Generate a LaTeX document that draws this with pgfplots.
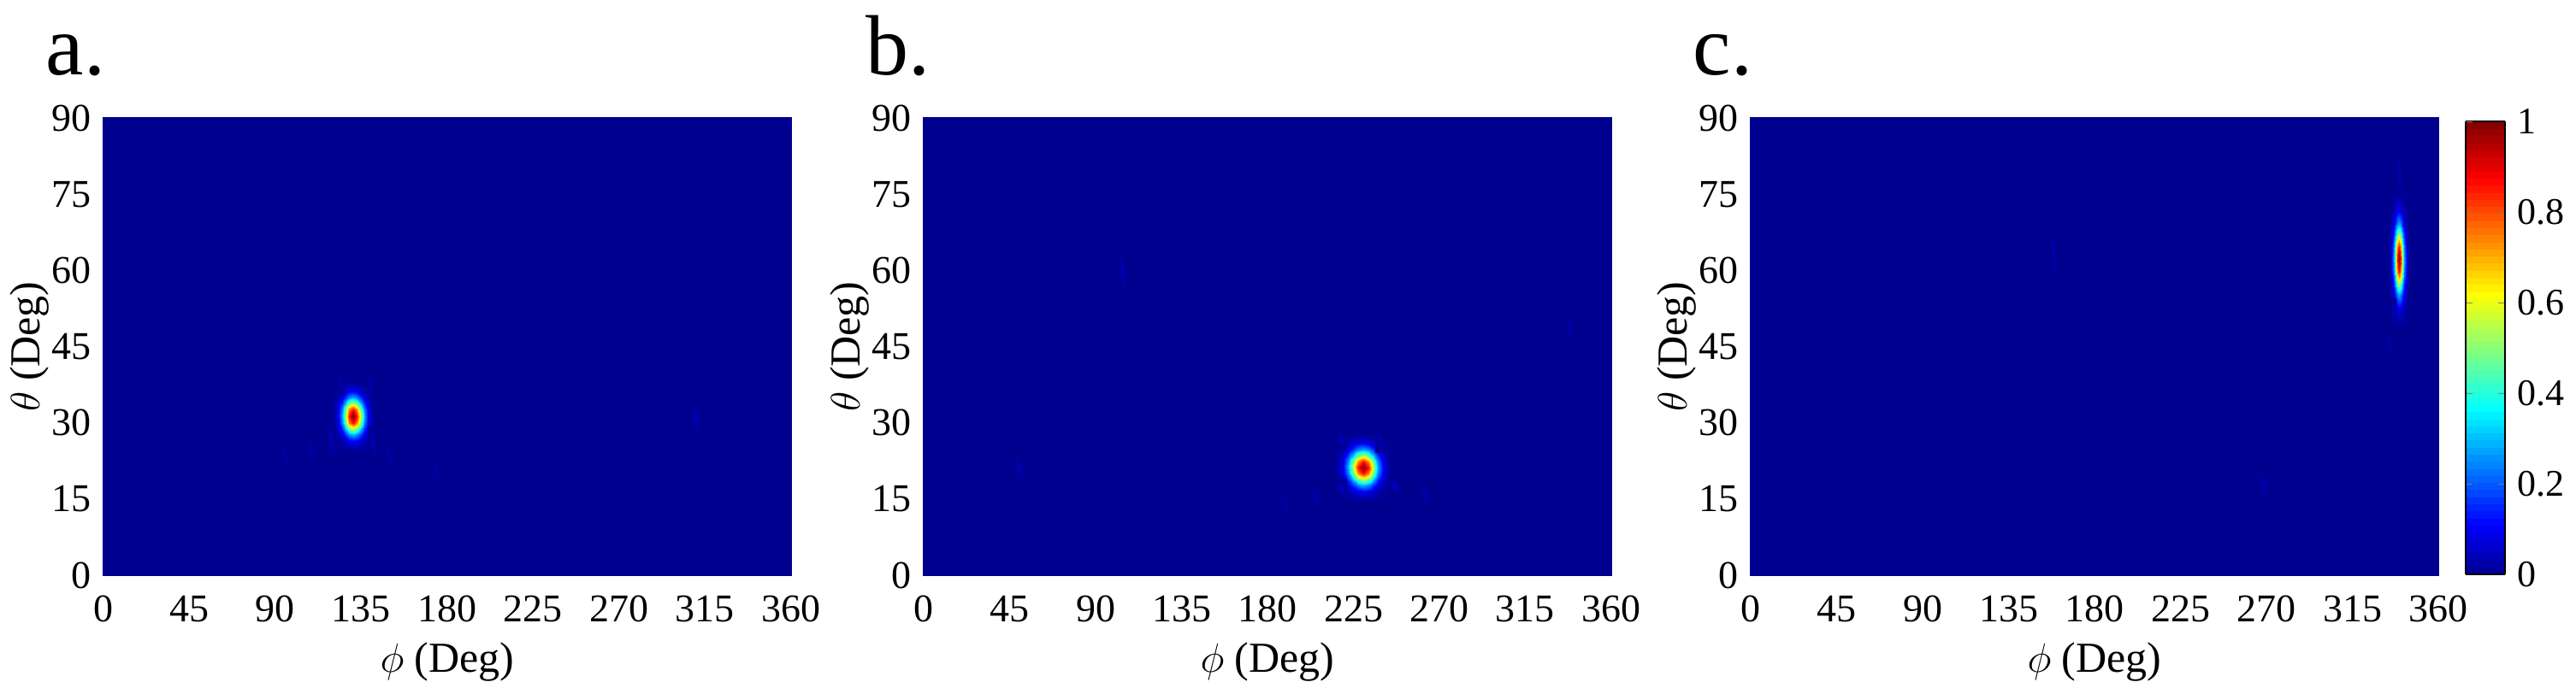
\documentclass[border=0pt]{standalone}
\usepackage{fontspec}
\setmainfont{Liberation Serif}
\usepackage{pgfplots}
\pgfplotsset{compat=1.18}
\pgfplotsset{
  colormap={mjet}{rgb(0pt)=(0,0,0.5625); rgb(7pt)=(0,0,1); rgb(23pt)=(0,1,1); rgb(39pt)=(1,1,0); rgb(55pt)=(1,0,0); rgb(63pt)=(0.5,0,0)},
  panel/.style={
    scale only axis, width=201pt, height=133.75pt,
    anchor=south west,
    xmin=0, xmax=360, ymin=0, ymax=90,
    xtick={0,45,...,360}, ytick={0,15,...,90},
    axis line style={draw=none},
    major tick length=0pt,
    tick label style={font=\fontsize{11.5}{12}\selectfont},
    xticklabel style={yshift=-2.5pt},
    /pgf/number format/assume math mode=true,
    xlabel={$\phi$ (Deg)}, ylabel={$\theta$ (Deg)},
    label style={font=\fontsize{12.5}{13}\selectfont},
    xlabel style={at={(axis description cs:0.5,-0.189)}, anchor=center},
    ylabel style={at={(axis description cs:-0.107,0.5)}, anchor=center},
    point meta min=0, point meta max=1,
    colormap name=mjet,
    clip=false,
  },
  bg/.style={surf, shader=flat, mesh/cols=2, point meta=explicit},
  blob/.style={surf, shader=interp, mesh/cols=11, point meta=explicit},
  faint/.style={surf, shader=interp, mesh/cols=3, point meta=explicit},
}
\begin{document}
\begin{tikzpicture}
\path[use as bounding box] (0,0) rectangle (753pt,201pt);
% ---------------- panel a ----------------
\begin{axis}[panel, at={(30.25pt,32.75pt)}]
\addplot[bg] coordinates {(0,0)[0] (360,0)[0] (0,90)[0] (360,90)[0]};
\addplot[blob] coordinates {
(119.9,24.4)[0] (122.8,24.4)[0] (124.9,24.4)[0] (126.7,24.4)[0] (128.7,24.4)[0] (130.7,24.4)[0] (132.7,24.4)[0] (134.7,24.4)[0] (136.5,24.4)[0] (138.6,24.4)[0] (141.5,24.4)[0]
(119.9,26.2)[0] (122.8,26.2)[0.008] (124.9,26.2)[0.025] (126.7,26.2)[0.049] (128.7,26.2)[0.077] (130.7,26.2)[0.089] (132.7,26.2)[0.077] (134.7,26.2)[0.049] (136.5,26.2)[0.025] (138.6,26.2)[0.008] (141.5,26.2)[0]
(119.9,27.6)[0] (122.8,27.6)[0.025] (124.9,27.6)[0.077] (126.7,27.6)[0.152] (128.7,27.6)[0.239] (130.7,27.6)[0.278] (132.7,27.6)[0.239] (134.7,27.6)[0.152] (136.5,27.6)[0.077] (138.6,27.6)[0.025] (141.5,27.6)[0]
(119.9,28.8)[0] (122.8,28.8)[0.049] (124.9,28.8)[0.152] (126.7,28.8)[0.298] (128.7,28.8)[0.470] (130.7,28.8)[0.546] (132.7,28.8)[0.470] (134.7,28.8)[0.298] (136.5,28.8)[0.152] (138.6,28.8)[0.049] (141.5,28.8)[0]
(119.9,30.0)[0] (122.8,30.0)[0.077] (124.9,30.0)[0.239] (126.7,30.0)[0.470] (128.7,30.0)[0.740] (130.7,30.0)[0.860] (132.7,30.0)[0.740] (134.7,30.0)[0.470] (136.5,30.0)[0.239] (138.6,30.0)[0.077] (141.5,30.0)[0]
(119.9,31.3)[0] (122.8,31.3)[0.089] (124.9,31.3)[0.278] (126.7,31.3)[0.546] (128.7,31.3)[0.860] (130.7,31.3)[1] (132.7,31.3)[0.860] (134.7,31.3)[0.546] (136.5,31.3)[0.278] (138.6,31.3)[0.089] (141.5,31.3)[0]
(119.9,32.6)[0] (122.8,32.6)[0.077] (124.9,32.6)[0.239] (126.7,32.6)[0.470] (128.7,32.6)[0.740] (130.7,32.6)[0.860] (132.7,32.6)[0.740] (134.7,32.6)[0.470] (136.5,32.6)[0.239] (138.6,32.6)[0.077] (141.5,32.6)[0]
(119.9,33.8)[0] (122.8,33.8)[0.049] (124.9,33.8)[0.152] (126.7,33.8)[0.298] (128.7,33.8)[0.470] (130.7,33.8)[0.546] (132.7,33.8)[0.470] (134.7,33.8)[0.298] (136.5,33.8)[0.152] (138.6,33.8)[0.049] (141.5,33.8)[0]
(119.9,35.0)[0] (122.8,35.0)[0.025] (124.9,35.0)[0.077] (126.7,35.0)[0.152] (128.7,35.0)[0.239] (130.7,35.0)[0.278] (132.7,35.0)[0.239] (134.7,35.0)[0.152] (136.5,35.0)[0.077] (138.6,35.0)[0.025] (141.5,35.0)[0]
(119.9,36.4)[0] (122.8,36.4)[0.008] (124.9,36.4)[0.025] (126.7,36.4)[0.049] (128.7,36.4)[0.077] (130.7,36.4)[0.089] (132.7,36.4)[0.077] (134.7,36.4)[0.049] (136.5,36.4)[0.025] (138.6,36.4)[0.008] (141.5,36.4)[0]
(119.9,38.2)[0] (122.8,38.2)[0] (124.9,38.2)[0] (126.7,38.2)[0] (128.7,38.2)[0] (130.7,38.2)[0] (132.7,38.2)[0] (134.7,38.2)[0] (136.5,38.2)[0] (138.6,38.2)[0] (141.5,38.2)[0]
};
% faint side lobes, panel a
\addplot[faint] coordinates {(307,27.8)[0] (310,27.8)[0] (313,27.8)[0] (307,30.8)[0] (310,30.8)[0.04] (313,30.8)[0] (307,33.8)[0] (310,33.8)[0] (313,33.8)[0]};
\addplot[faint] coordinates {(122,35.5)[0] (124,35.5)[0] (126,35.5)[0] (122,37.5)[0] (124,37.5)[0.035] (126,37.5)[0] (122,39.5)[0] (124,39.5)[0] (126,39.5)[0]};
\addplot[faint] coordinates {(137.7,35.5)[0] (139.7,35.5)[0] (141.7,35.5)[0] (137.7,37.5)[0] (139.7,37.5)[0.035] (141.7,37.5)[0] (137.7,39.5)[0] (139.7,39.5)[0] (141.7,39.5)[0]};
\addplot[faint] coordinates {(116.9,23.6)[0] (119.1,23.6)[0] (121.3,23.6)[0] (116.9,26.6)[0] (119.1,26.6)[0.045] (121.3,26.6)[0] (116.9,29.6)[0] (119.1,29.6)[0] (121.3,29.6)[0]};
\addplot[faint] coordinates {(138.4,23.2)[0] (140.6,23.2)[0] (142.8,23.2)[0] (138.4,26.2)[0] (140.6,26.2)[0.045] (142.8,26.2)[0] (138.4,29.2)[0] (140.6,29.2)[0] (142.8,29.2)[0]};
\addplot[faint] coordinates {(106.4,22.1)[0] (108.4,22.1)[0] (110.4,22.1)[0] (106.4,24.6)[0] (108.4,24.6)[0.03] (110.4,24.6)[0] (106.4,27.1)[0] (108.4,27.1)[0] (110.4,27.1)[0]};
\addplot[faint] coordinates {(147.6,20.7)[0] (149.6,20.7)[0] (151.6,20.7)[0] (147.6,23.2)[0] (149.6,23.2)[0.03] (151.6,23.2)[0] (147.6,25.7)[0] (149.6,25.7)[0] (151.6,25.7)[0]};
\addplot[faint] coordinates {(93,21.5)[0] (95,21.5)[0] (97,21.5)[0] (93,23.5)[0] (95,23.5)[0.025] (97,23.5)[0] (93,25.5)[0] (95,25.5)[0] (97,25.5)[0]};
\addplot[faint] coordinates {(172,18.2)[0] (174,18.2)[0] (176,18.2)[0] (172,20.2)[0] (174,20.2)[0.02] (176,20.2)[0] (172,22.2)[0] (174,22.2)[0] (176,22.2)[0]};
\end{axis}
% ---------------- panel b ----------------
\begin{axis}[panel, at={(270pt,32.75pt)}]
\addplot[bg] coordinates {(0,0)[0] (360,0)[0] (0,90)[0] (360,90)[0]};
\addplot[blob] coordinates {
(215.3,14.6)[0] (219.2,14.6)[0] (222.2,14.6)[0] (224.6,14.6)[0] (227.3,14.6)[0] (230.0,14.6)[0] (232.7,14.6)[0] (235.4,14.6)[0] (237.8,14.6)[0] (240.8,14.6)[0] (244.7,14.6)[0]
(215.3,16.4)[0] (219.2,16.4)[0.008] (222.2,16.4)[0.025] (224.6,16.4)[0.049] (227.3,16.4)[0.077] (230.0,16.4)[0.089] (232.7,16.4)[0.077] (235.4,16.4)[0.049] (237.8,16.4)[0.025] (240.8,16.4)[0.008] (244.7,16.4)[0]
(215.3,17.7)[0] (219.2,17.7)[0.025] (222.2,17.7)[0.077] (224.6,17.7)[0.152] (227.3,17.7)[0.239] (230.0,17.7)[0.278] (232.7,17.7)[0.239] (235.4,17.7)[0.152] (237.8,17.7)[0.077] (240.8,17.7)[0.025] (244.7,17.7)[0]
(215.3,18.8)[0] (219.2,18.8)[0.049] (222.2,18.8)[0.152] (224.6,18.8)[0.298] (227.3,18.8)[0.470] (230.0,18.8)[0.546] (232.7,18.8)[0.470] (235.4,18.8)[0.298] (237.8,18.8)[0.152] (240.8,18.8)[0.049] (244.7,18.8)[0]
(215.3,20.0)[0] (219.2,20.0)[0.077] (222.2,20.0)[0.239] (224.6,20.0)[0.470] (227.3,20.0)[0.740] (230.0,20.0)[0.860] (232.7,20.0)[0.740] (235.4,20.0)[0.470] (237.8,20.0)[0.239] (240.8,20.0)[0.077] (244.7,20.0)[0]
(215.3,21.2)[0] (219.2,21.2)[0.089] (222.2,21.2)[0.278] (224.6,21.2)[0.546] (227.3,21.2)[0.860] (230.0,21.2)[1] (232.7,21.2)[0.860] (235.4,21.2)[0.546] (237.8,21.2)[0.278] (240.8,21.2)[0.089] (244.7,21.2)[0]
(215.3,22.4)[0] (219.2,22.4)[0.077] (222.2,22.4)[0.239] (224.6,22.4)[0.470] (227.3,22.4)[0.740] (230.0,22.4)[0.860] (232.7,22.4)[0.740] (235.4,22.4)[0.470] (237.8,22.4)[0.239] (240.8,22.4)[0.077] (244.7,22.4)[0]
(215.3,23.6)[0] (219.2,23.6)[0.049] (222.2,23.6)[0.152] (224.6,23.6)[0.298] (227.3,23.6)[0.470] (230.0,23.6)[0.546] (232.7,23.6)[0.470] (235.4,23.6)[0.298] (237.8,23.6)[0.152] (240.8,23.6)[0.049] (244.7,23.6)[0]
(215.3,24.7)[0] (219.2,24.7)[0.025] (222.2,24.7)[0.077] (224.6,24.7)[0.152] (227.3,24.7)[0.239] (230.0,24.7)[0.278] (232.7,24.7)[0.239] (235.4,24.7)[0.152] (237.8,24.7)[0.077] (240.8,24.7)[0.025] (244.7,24.7)[0]
(215.3,26.0)[0] (219.2,26.0)[0.008] (222.2,26.0)[0.025] (224.6,26.0)[0.049] (227.3,26.0)[0.077] (230.0,26.0)[0.089] (232.7,26.0)[0.077] (235.4,26.0)[0.049] (237.8,26.0)[0.025] (240.8,26.0)[0.008] (244.7,26.0)[0]
(215.3,27.8)[0] (219.2,27.8)[0] (222.2,27.8)[0] (224.6,27.8)[0] (227.3,27.8)[0] (230.0,27.8)[0] (232.7,27.8)[0] (235.4,27.8)[0] (237.8,27.8)[0] (240.8,27.8)[0] (244.7,27.8)[0]
};
\addplot[faint] coordinates {(102.5,55.9)[0] (104,55.9)[0] (105.5,55.9)[0] (102.5,59.9)[0] (104,59.9)[0.045] (105.5,59.9)[0] (102.5,63.9)[0] (104,63.9)[0] (105.5,63.9)[0]};
\addplot[faint] coordinates {(336.5,45.6)[0] (338,45.6)[0] (339.5,45.6)[0] (336.5,48.6)[0] (338,48.6)[0.045] (339.5,48.6)[0] (336.5,51.6)[0] (338,51.6)[0] (339.5,51.6)[0]};
\addplot[faint] coordinates {(47.2,18.7)[0] (49.7,18.7)[0] (52.2,18.7)[0] (47.2,21.2)[0] (49.7,21.2)[0.035] (52.2,21.2)[0] (47.2,23.7)[0] (49.7,23.7)[0] (52.2,23.7)[0]};
\addplot[faint] coordinates {(216.2,24.6)[0] (218.7,24.6)[0] (221.2,24.6)[0] (216.2,26.6)[0] (218.7,26.6)[0.04] (221.2,26.6)[0] (216.2,28.6)[0] (218.7,28.6)[0] (221.2,28.6)[0]};
\addplot[faint] coordinates {(236.4,24.2)[0] (238.9,24.2)[0] (241.4,24.2)[0] (236.4,26.2)[0] (238.9,26.2)[0.04] (241.4,26.2)[0] (236.4,28.2)[0] (238.9,28.2)[0] (241.4,28.2)[0]};
\addplot[faint] coordinates {(215.3,15.0)[0] (218.3,15.0)[0] (221.3,15.0)[0] (215.3,17.0)[0] (218.3,17.0)[0.05] (221.3,17.0)[0] (215.3,19.0)[0] (218.3,19.0)[0] (221.3,19.0)[0]};
\addplot[faint] coordinates {(243.5,15.7)[0] (246.5,15.7)[0] (249.5,15.7)[0] (243.5,17.7)[0] (246.5,17.7)[0.05] (249.5,17.7)[0] (243.5,19.7)[0] (246.5,19.7)[0] (249.5,19.7)[0]};
\addplot[faint] coordinates {(202.8,13.1)[0] (205.3,13.1)[0] (207.8,13.1)[0] (202.8,15.1)[0] (205.3,15.1)[0.035] (207.8,15.1)[0] (202.8,17.1)[0] (205.3,17.1)[0] (207.8,17.1)[0]};
\addplot[faint] coordinates {(259.7,14.2)[0] (262.2,14.2)[0] (264.7,14.2)[0] (259.7,16.2)[0] (262.2,16.2)[0.035] (264.7,16.2)[0] (259.7,18.2)[0] (262.2,18.2)[0] (264.7,18.2)[0]};
\addplot[faint] coordinates {(187.2,11.6)[0] (189.2,11.6)[0] (191.2,11.6)[0] (187.2,13.6)[0] (189.2,13.6)[0.025] (191.2,13.6)[0] (187.2,15.6)[0] (189.2,15.6)[0] (191.2,15.6)[0]};
\end{axis}
% ---------------- panel c ----------------
\begin{axis}[panel, at={(511.75pt,32.75pt)},
  colorbar sampled,
  colorbar style={
    samples=65,
    at={(1.0398,0.9925)}, anchor=north west,
    scale only axis, width=11.5pt, height=132.5pt,
    ytick={0,0.2,0.4,0.6,0.8,1},
    yticklabel style={font=\fontsize{11}{12}\selectfont, /pgf/number format/fixed},
    /pgf/number format/assume math mode=true,
    major tick length=2pt, tick align=inside,
    axis line style={black, line width=0.5pt},
  }]
\addplot[bg] coordinates {(0,0)[0] (360,0)[0] (0,90)[0] (360,90)[0]};
\addplot[blob] coordinates {
(334.0,49.0)[0] (335.4,49.0)[0] (336.5,49.0)[0] (337.4,49.0)[0] (338.4,49.0)[0] (339.4,49.0)[0] (340.4,49.0)[0] (341.4,49.0)[0] (342.3,49.0)[0] (343.4,49.0)[0] (344.8,49.0)[0]
(334.0,52.5)[0] (335.4,52.5)[0.008] (336.5,52.5)[0.025] (337.4,52.5)[0.049] (338.4,52.5)[0.077] (339.4,52.5)[0.089] (340.4,52.5)[0.077] (341.4,52.5)[0.049] (342.3,52.5)[0.025] (343.4,52.5)[0.008] (344.8,52.5)[0]
(334.0,55.2)[0] (335.4,55.2)[0.025] (336.5,55.2)[0.077] (337.4,55.2)[0.152] (338.4,55.2)[0.239] (339.4,55.2)[0.278] (340.4,55.2)[0.239] (341.4,55.2)[0.152] (342.3,55.2)[0.077] (343.4,55.2)[0.025] (344.8,55.2)[0]
(334.0,57.4)[0] (335.4,57.4)[0.049] (336.5,57.4)[0.152] (337.4,57.4)[0.298] (338.4,57.4)[0.470] (339.4,57.4)[0.546] (340.4,57.4)[0.470] (341.4,57.4)[0.298] (342.3,57.4)[0.152] (343.4,57.4)[0.049] (344.8,57.4)[0]
(334.0,59.8)[0] (335.4,59.8)[0.077] (336.5,59.8)[0.239] (337.4,59.8)[0.470] (338.4,59.8)[0.740] (339.4,59.8)[0.860] (340.4,59.8)[0.740] (341.4,59.8)[0.470] (342.3,59.8)[0.239] (343.4,59.8)[0.077] (344.8,59.8)[0]
(334.0,62.2)[0] (335.4,62.2)[0.089] (336.5,62.2)[0.278] (337.4,62.2)[0.546] (338.4,62.2)[0.860] (339.4,62.2)[1] (340.4,62.2)[0.860] (341.4,62.2)[0.546] (342.3,62.2)[0.278] (343.4,62.2)[0.089] (344.8,62.2)[0]
(334.0,64.6)[0] (335.4,64.6)[0.077] (336.5,64.6)[0.239] (337.4,64.6)[0.470] (338.4,64.6)[0.740] (339.4,64.6)[0.860] (340.4,64.6)[0.740] (341.4,64.6)[0.470] (342.3,64.6)[0.239] (343.4,64.6)[0.077] (344.8,64.6)[0]
(334.0,67.0)[0] (335.4,67.0)[0.049] (336.5,67.0)[0.152] (337.4,67.0)[0.298] (338.4,67.0)[0.470] (339.4,67.0)[0.546] (340.4,67.0)[0.470] (341.4,67.0)[0.298] (342.3,67.0)[0.152] (343.4,67.0)[0.049] (344.8,67.0)[0]
(334.0,69.2)[0] (335.4,69.2)[0.025] (336.5,69.2)[0.077] (337.4,69.2)[0.152] (338.4,69.2)[0.239] (339.4,69.2)[0.278] (340.4,69.2)[0.239] (341.4,69.2)[0.152] (342.3,69.2)[0.077] (343.4,69.2)[0.025] (344.8,69.2)[0]
(334.0,71.9)[0] (335.4,71.9)[0.008] (336.5,71.9)[0.025] (337.4,71.9)[0.049] (338.4,71.9)[0.077] (339.4,71.9)[0.089] (340.4,71.9)[0.077] (341.4,71.9)[0.049] (342.3,71.9)[0.025] (343.4,71.9)[0.008] (344.8,71.9)[0]
(334.0,75.4)[0] (335.4,75.4)[0] (336.5,75.4)[0] (337.4,75.4)[0] (338.4,75.4)[0] (339.4,75.4)[0] (340.4,75.4)[0] (341.4,75.4)[0] (342.3,75.4)[0] (343.4,75.4)[0] (344.8,75.4)[0]
};
\addplot[faint] coordinates {(157,59)[0] (158.5,59)[0] (160,59)[0] (157,63)[0] (158.5,63)[0.045] (160,63)[0] (157,67)[0] (158.5,67)[0] (160,67)[0]};
\addplot[faint] coordinates {(265,15.2)[0] (268,15.2)[0] (271,15.2)[0] (265,17.7)[0] (268,17.7)[0.035] (271,17.7)[0] (265,20.2)[0] (268,20.2)[0] (271,20.2)[0]};
\addplot[faint] coordinates {(334.8,49.5)[0] (336.3,49.5)[0] (337.8,49.5)[0] (334.8,52)[0] (336.3,52)[0.06] (337.8,52)[0] (334.8,54.5)[0] (336.3,54.5)[0] (337.8,54.5)[0]};
\addplot[faint] coordinates {(332.5,44)[0] (334,44)[0] (335.5,44)[0] (332.5,46)[0] (334,46)[0.04] (335.5,46)[0] (332.5,48)[0] (334,48)[0] (335.5,48)[0]};
\addplot[faint] coordinates {(338.6,75)[0] (339.6,75)[0] (340.6,75)[0] (338.6,79)[0] (339.6,79)[0.05] (340.6,79)[0] (338.6,83)[0] (339.6,83)[0] (340.6,83)[0]};
\end{axis}
% panel labels
\node[anchor=base west, font=\fontsize{25}{25}\selectfont, inner sep=0pt] at (13.25pt,179pt) {a.};
\node[anchor=base west, font=\fontsize{25}{25}\selectfont, inner sep=0pt] at (253pt,179pt) {b.};
\node[anchor=base west, font=\fontsize{25}{25}\selectfont, inner sep=0pt] at (494.75pt,179pt) {c.};
\end{tikzpicture}
\end{document}
